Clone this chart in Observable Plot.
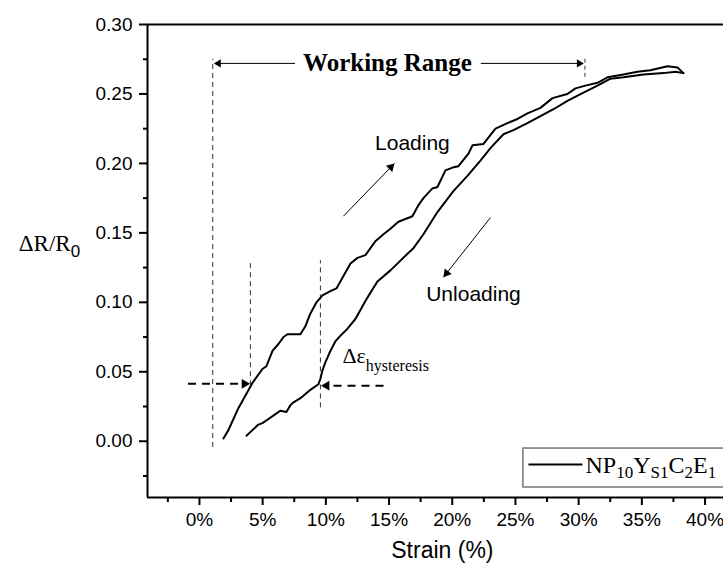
<!DOCTYPE html>
<html>
<head>
<meta charset="utf-8">
<script src="https://cdn.jsdelivr.net/npm/d3@7"></script>
<script src="https://cdn.jsdelivr.net/npm/@observablehq/plot@0.6"></script>
<style>
  html, body { margin: 0; padding: 0; background: #fff; overflow: hidden; }
  #chart svg { display: block; overflow: visible; }
</style>
</head>
<body>
<div id="chart"></div>
<script>
// ---- data (strain in %, ΔR/R0) ----
const loadingX = [1.90,2.29,2.69,3.09,3.64,4.19,4.59,4.98,5.30,5.78,6.25,6.65,6.96,7.59,7.99,8.39,8.78,9.26,9.73,10.36,10.84,11.39,11.95,12.50,13.13,13.53,13.92,14.56,15.11,15.74,16.30,16.85,17.33,17.72,18.43,18.83,19.46,20.02,20.49,21.28,21.60,22.47,23.42,24.37,25.16,25.95,26.98,27.93,29.11,29.75,30.54,31.49,32.28,33.54,34.65,35.68,37.03,37.82,38.29];
const loadingY = [0.002,0.008,0.016,0.024,0.033,0.042,0.047,0.052,0.054,0.065,0.070,0.075,0.077,0.077,0.077,0.083,0.092,0.100,0.105,0.108,0.110,0.119,0.128,0.132,0.134,0.139,0.144,0.149,0.153,0.158,0.160,0.162,0.170,0.175,0.182,0.183,0.195,0.197,0.198,0.207,0.213,0.214,0.225,0.229,0.232,0.236,0.240,0.247,0.250,0.254,0.256,0.258,0.262,0.264,0.266,0.267,0.270,0.269,0.265];
const unloadingX = [38.29,37.66,36.71,35.13,33.54,32.52,31.49,30.38,29.11,28.01,26.98,25.95,24.84,24.05,23.02,22.23,21.20,20.09,18.83,17.72,16.93,16.46,15.11,14.08,13.53,13.13,12.34,11.71,11.16,10.76,10.36,9.97,9.73,9.57,9.41,8.78,7.99,7.44,7.20,6.88,6.41,5.93,5.46,4.98,4.67,4.19,3.72];
const unloadingY = [0.265,0.266,0.265,0.264,0.262,0.261,0.256,0.251,0.245,0.239,0.234,0.229,0.224,0.221,0.211,0.202,0.191,0.180,0.165,0.149,0.139,0.135,0.123,0.115,0.107,0.101,0.088,0.081,0.076,0.072,0.065,0.057,0.051,0.045,0.041,0.037,0.031,0.028,0.026,0.021,0.022,0.019,0.016,0.013,0.012,0.008,0.004];

const xTicks = [0,5,10,15,20,25,30,35,40];
const xTickLabels = ["0%","5%","10%","15%","20%","25%","30%","35%","40%"];
const xMinorTicks = [-2.5,2.5,7.5,12.5,17.5,22.5,27.5,32.5,37.5];
const yTicks = [0,0.05,0.10,0.15,0.20,0.25,0.30];
const yTickLabels = ["0.00","0.05","0.10","0.15","0.20","0.25","0.30"];
const yMinorTicks = [-0.025,0.025,0.075,0.125,0.175,0.225,0.275];

const seriesName = "NP10YS1C2E1";
const xTitle = "Strain (%)";
const yTitle = "ΔR/R0";

// ---- build ----
const loading = loadingX.map((x, i) => ({x, y: loadingY[i]}));
const unloading = unloadingX.map((x, i) => ({x, y: unloadingY[i]}));
const xDom = [-4.11, 41.46];
const yDom = [-0.0405, 0.30];
const serif = "'Liberation Serif', 'Times New Roman', serif";
const sans = "'Liberation Sans', Arial, sans-serif";

function head(x, y, rotate, dx, dy, r) {
  return Plot.dot([{x, y}], {x: "x", y: "y", symbol: "triangle", r, rotate, dx, dy, fill: "#000", stroke: "none"});
}

const chart = Plot.plot({
  width: 723,
  height: 570,
  marginLeft: 147,
  marginRight: 0,
  marginTop: 24,
  marginBottom: 73,
  style: {fontFamily: sans, fontSize: "19px", background: "#fff", color: "#000"},
  x: {domain: xDom},
  y: {domain: yDom},
  marks: [
    // axes
    Plot.axisX({ticks: xTicks, tickFormat: (d, i) => xTickLabels[i], tickSize: 8, tickPadding: 7, strokeWidth: 2, fontSize: 19, label: null}),
    Plot.axisX({ticks: xMinorTicks, tickFormat: () => "", tickSize: 5, strokeWidth: 2, label: null}),
    Plot.axisY({ticks: yTicks, tickFormat: (d, i) => yTickLabels[i], tickSize: 8, tickPadding: 7, strokeWidth: 2, fontSize: 19, label: null}),
    Plot.axisY({ticks: yMinorTicks, tickFormat: () => "", tickSize: 4, strokeWidth: 2, label: null}),
    Plot.ruleX([xDom[0]], {strokeWidth: 2}),
    Plot.ruleY([yDom[0]], {strokeWidth: 2}),
    Plot.ruleY([yDom[1]], {strokeWidth: 2}),
    // titles
    Plot.text([xTitle], {x: () => 19.22, frameAnchor: "bottom", dy: 60, text: d => d, fontSize: 23, fontFamily: sans}),
    Plot.text([yTitle], {y: () => 0.1422, frameAnchor: "left", dx: -98, text: d => d, fontSize: 23, fontFamily: serif, textAnchor: "middle"}),
    // working range
    Plot.ruleX([1.05], {y1: -0.0045, y2: 0.275, stroke: "#333", strokeWidth: 1, strokeDasharray: "5,4"}),
    Plot.ruleX([30.5], {y1: 0.262, y2: 0.275, stroke: "#333", strokeWidth: 1, strokeDasharray: "4,3"}),
    Plot.ruleY([0.272], {x1: 1.3, x2: 7.6, stroke: "#000", strokeWidth: 1}),
    Plot.ruleY([0.272], {x1: 22.3, x2: 30.0, stroke: "#000", strokeWidth: 1}),
    head(1.15, 0.272, -90, 4.5, 0, 3),
    head(30.4, 0.272, 90, -4.5, 0, 3),
    Plot.text(["Working Range"], {x: () => 14.87, y: () => 0.272, text: d => d, fontFamily: serif, fontWeight: "bold", fontSize: 25}),
    // hysteresis guides
    Plot.ruleX([4.03], {y1: 0.040, y2: 0.130, stroke: "#333", strokeWidth: 1, strokeDasharray: "5,4"}),
    Plot.ruleX([9.57], {y1: 0.024, y2: 0.130, stroke: "#333", strokeWidth: 1, strokeDasharray: "5,4"}),
    Plot.ruleY([0.0413], {x1: -0.87, x2: 3.4, stroke: "#000", strokeWidth: 2, strokeDasharray: "8,6"}),
    head(4.0, 0.0413, 90, -5.5, 0, 3.6),
    Plot.ruleY([0.040], {x1: 14.6, x2: 10.2, stroke: "#000", strokeWidth: 2, strokeDasharray: "8,6"}),
    head(9.62, 0.040, -90, 5.5, 0, 3.6),
    Plot.text(["Δεhysteresis"], {x: () => 11.31, y: () => 0.0617, text: d => d, textAnchor: "start", fontFamily: serif, fontSize: 22}),
    // loading / unloading arrows
    Plot.link([{x1: 11.39, y1: 0.162, x2: 15.43, y2: 0.200}], {x1: "x1", y1: "y1", x2: "x2", y2: "y2", stroke: "#000", strokeWidth: 1}),
    head(15.43, 0.200, 44, -3.6, 3.7, 3.3),
    Plot.link([{x1: 23.02, y1: 0.161, x2: 19.30, y2: 0.118}], {x1: "x1", y1: "y1", x2: "x2", y2: "y2", stroke: "#000", strokeWidth: 1}),
    head(19.30, 0.118, 218, 3.2, -4.1, 3.3),
    Plot.text(["Loading"], {x: () => 16.85, y: () => 0.2142, text: d => d, fontSize: 21, fontFamily: sans}),
    Plot.text(["Unloading"], {x: () => 21.68, y: () => 0.1055, text: d => d, fontSize: 21, fontFamily: sans}),
    // curves
    Plot.line(loading, {x: "x", y: "y", stroke: "#000", strokeWidth: 2, strokeLinejoin: "round"}),
    Plot.line(unloading, {x: "x", y: "y", stroke: "#000", strokeWidth: 2, strokeLinejoin: "round"}),
    // legend
    Plot.rect([{x1: 25.63, x2: 41.7, y1: -0.0333, y2: -0.00525}], {x1: "x1", x2: "x2", y1: "y1", y2: "y2", fill: "#fff", stroke: "#777", strokeWidth: 1.5}),
    Plot.link([{x1: 26.03, x2: 30.3, y: -0.0168}], {x1: "x1", x2: "x2", y1: "y", y2: "y", stroke: "#000", strokeWidth: 2}),
    Plot.text([seriesName], {x: () => 30.54, y: () => -0.0175, text: d => d, textAnchor: "start", fontFamily: serif, fontSize: 24})
  ]
});

// rich text (subscripts)
const NS = "http://www.w3.org/2000/svg";
function rich(match, parts) {
  chart.querySelectorAll("text").forEach(t => {
    if (t.textContent !== match) return;
    t.textContent = "";
    parts.forEach(p => {
      const s = document.createElementNS(NS, "tspan");
      s.textContent = p.t;
      if (p.size) s.setAttribute("font-size", p.size);
      if (p.family) s.setAttribute("font-family", p.family);
      if (p.dy) s.setAttribute("dy", p.dy);
      t.appendChild(s);
    });
  });
}
rich(yTitle, [{t: "ΔR/R"}, {t: "0", size: 17, family: sans, dy: 6}]);
rich("Δεhysteresis", [{t: "Δε"}, {t: "hysteresis", size: 16, dy: 8}]);
rich(seriesName, [
  {t: "NP"}, {t: "10", size: 17, dy: 5}, {t: "Y", dy: -5}, {t: "S1", size: 17, dy: 5},
  {t: "C", dy: -5}, {t: "2", size: 17, dy: 5}, {t: "E", dy: -5}, {t: "1", size: 17, dy: 5}
]);

document.getElementById("chart").appendChild(chart);
</script>
</body>
</html>
